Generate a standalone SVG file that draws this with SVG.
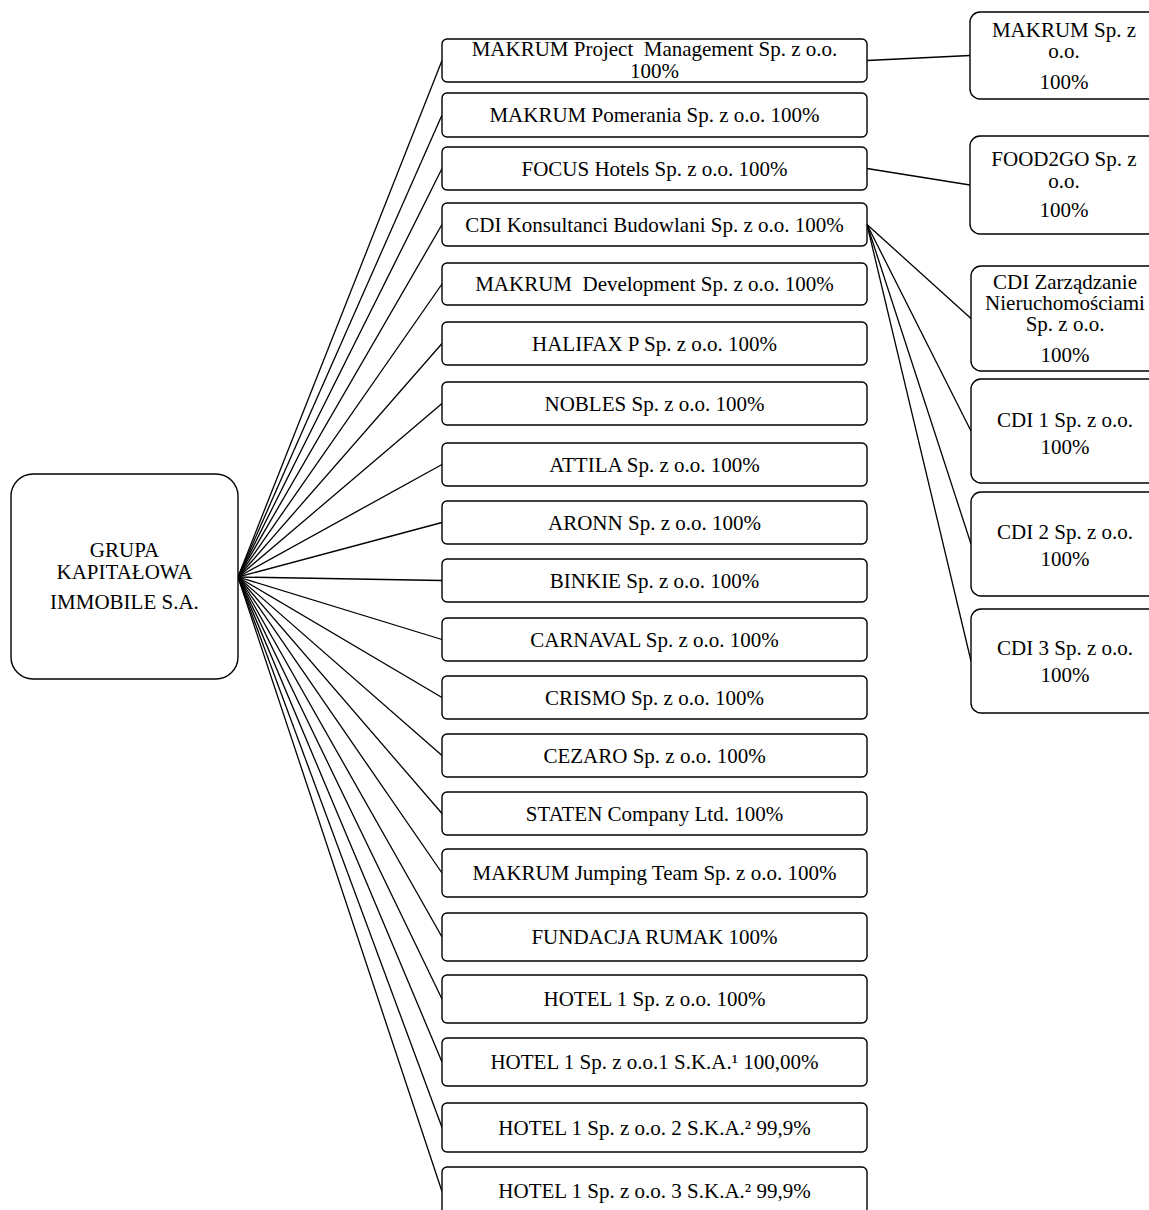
<svg xmlns="http://www.w3.org/2000/svg" width="1149" height="1210" viewBox="0 0 1149 1210">
<style>
  .box { fill: #ffffff; stroke: #000000; stroke-width: 1.4; }
  .t { font-family: "Liberation Serif", "Times New Roman", serif; font-size: 21px; fill: #000000; text-anchor: middle; white-space: pre; }
  .c line { stroke: #000000; stroke-width: 1.3; }
</style>
<rect x="0" y="0" width="1149" height="1210" fill="#ffffff"/>
<g class="c" id="connectors">
  <line x1="238" y1="577" x2="442" y2="60.5"/>
  <line x1="238" y1="577" x2="442" y2="115"/>
  <line x1="238" y1="577" x2="442" y2="168.5"/>
  <line x1="238" y1="577" x2="442" y2="224.5"/>
  <line x1="238" y1="577" x2="442" y2="284"/>
  <line x1="238" y1="577" x2="442" y2="343.5"/>
  <line x1="238" y1="577" x2="442" y2="403.5"/>
  <line x1="238" y1="577" x2="442" y2="464.5"/>
  <line x1="238" y1="577" x2="442" y2="522.5"/>
  <line x1="238" y1="577" x2="442" y2="580.5"/>
  <line x1="238" y1="577" x2="442" y2="639.5"/>
  <line x1="238" y1="577" x2="442" y2="697.5"/>
  <line x1="238" y1="577" x2="442" y2="755.5"/>
  <line x1="238" y1="577" x2="442" y2="813.5"/>
  <line x1="238" y1="577" x2="442" y2="873"/>
  <line x1="238" y1="577" x2="442" y2="937"/>
  <line x1="238" y1="577" x2="442" y2="999"/>
  <line x1="238" y1="577" x2="442" y2="1062"/>
  <line x1="238" y1="577" x2="442" y2="1127.5"/>
  <line x1="238" y1="577" x2="442" y2="1191.5"/>
  <line x1="867" y1="60.5" x2="970" y2="55.5"/>
  <line x1="867" y1="168.5" x2="970" y2="185"/>
  <line x1="867" y1="224.5" x2="971" y2="318.5"/>
  <line x1="867" y1="224.5" x2="971" y2="431"/>
  <line x1="867" y1="224.5" x2="971" y2="544"/>
  <line x1="867" y1="224.5" x2="971" y2="661"/>
</g>
<g id="root">
  <rect class="box" x="11" y="474" width="227" height="205" rx="22"/>
  <text class="t" x="124.5" y="557">GRUPA</text>
  <text class="t" x="124.5" y="579">KAPITAŁOWA</text>
  <text class="t" x="124.5" y="609">IMMOBILE S.A.</text>
</g>
<g id="n1"><rect class="box" x="442" y="39" width="425" height="43" rx="5"/>
  <text class="t" x="654.5" y="56">MAKRUM Project  Management Sp. z o.o.</text>
  <text class="t" x="654.5" y="77.5">100%</text></g>
<g id="n2"><rect class="box" x="442" y="93" width="425" height="44" rx="5"/><text class="t" x="654.5" y="122">MAKRUM Pomerania Sp. z o.o. 100%</text></g>
<g id="n3"><rect class="box" x="442" y="147" width="425" height="43" rx="5"/><text class="t" x="654.5" y="175.5">FOCUS Hotels Sp. z o.o. 100%</text></g>
<g id="n4"><rect class="box" x="442" y="203" width="425" height="43" rx="5"/><text class="t" x="654.5" y="231.5">CDI Konsultanci Budowlani Sp. z o.o. 100%</text></g>
<g id="n5"><rect class="box" x="442" y="263" width="425" height="42" rx="5"/><text class="t" x="654.5" y="291">MAKRUM  Development Sp. z o.o. 100%</text></g>
<g id="n6"><rect class="box" x="442" y="322" width="425" height="43" rx="5"/><text class="t" x="654.5" y="350.5">HALIFAX P Sp. z o.o. 100%</text></g>
<g id="n7"><rect class="box" x="442" y="382" width="425" height="43" rx="5"/><text class="t" x="654.5" y="410.5">NOBLES Sp. z o.o. 100%</text></g>
<g id="n8"><rect class="box" x="442" y="443" width="425" height="43" rx="5"/><text class="t" x="654.5" y="471.5">ATTILA Sp. z o.o. 100%</text></g>
<g id="n9"><rect class="box" x="442" y="501" width="425" height="43" rx="5"/><text class="t" x="654.5" y="529.5">ARONN Sp. z o.o. 100%</text></g>
<g id="n10"><rect class="box" x="442" y="559" width="425" height="43" rx="5"/><text class="t" x="654.5" y="587.5">BINKIE Sp. z o.o. 100%</text></g>
<g id="n11"><rect class="box" x="442" y="618" width="425" height="43" rx="5"/><text class="t" x="654.5" y="646.5">CARNAVAL Sp. z o.o. 100%</text></g>
<g id="n12"><rect class="box" x="442" y="676" width="425" height="43" rx="5"/><text class="t" x="654.5" y="704.5">CRISMO Sp. z o.o. 100%</text></g>
<g id="n13"><rect class="box" x="442" y="734" width="425" height="43" rx="5"/><text class="t" x="654.5" y="762.5">CEZARO Sp. z o.o. 100%</text></g>
<g id="n14"><rect class="box" x="442" y="792" width="425" height="43" rx="5"/><text class="t" x="654.5" y="820.5">STATEN Company Ltd. 100%</text></g>
<g id="n15"><rect class="box" x="442" y="849" width="425" height="48" rx="5"/><text class="t" x="654.5" y="879.5">MAKRUM Jumping Team Sp. z o.o. 100%</text></g>
<g id="n16"><rect class="box" x="442" y="913" width="425" height="48" rx="5"/><text class="t" x="654.5" y="943.5">FUNDACJA RUMAK 100%</text></g>
<g id="n17"><rect class="box" x="442" y="975" width="425" height="48" rx="5"/><text class="t" x="654.5" y="1005.5">HOTEL 1 Sp. z o.o. 100%</text></g>
<g id="n18"><rect class="box" x="442" y="1038" width="425" height="48" rx="5"/><text class="t" x="654.5" y="1068.5">HOTEL 1 Sp. z o.o.1 S.K.A.¹ 100,00%</text></g>
<g id="n19"><rect class="box" x="442" y="1103" width="425" height="49" rx="5"/><text class="t" x="654.5" y="1134.5">HOTEL 1 Sp. z o.o. 2 S.K.A.² 99,9%</text></g>
<g id="n20"><rect class="box" x="442" y="1167" width="425" height="49" rx="5"/><text class="t" x="654.5" y="1198">HOTEL 1 Sp. z o.o. 3 S.K.A.² 99,9%</text></g>
<g id="r1"><rect class="box" x="970" y="12" width="190" height="87" rx="10"/>
  <text class="t" x="1064" y="36.5">MAKRUM Sp. z</text>
  <text class="t" x="1064" y="58">o.o.</text>
  <text class="t" x="1064" y="88.5">100%</text></g>
<g id="r2"><rect class="box" x="970" y="136" width="190" height="98" rx="10"/>
  <text class="t" x="1064" y="166">FOOD2GO Sp. z</text>
  <text class="t" x="1064" y="187.5">o.o.</text>
  <text class="t" x="1064" y="217">100%</text></g>
<g id="r3"><rect class="box" x="971" y="266" width="190" height="105" rx="10"/>
  <text class="t" x="1065" y="289">CDI Zarządzanie</text>
  <text class="t" x="1065" y="310">Nieruchomościami</text>
  <text class="t" x="1065" y="331">Sp. z o.o.</text>
  <text class="t" x="1065" y="362">100%</text></g>
<g id="r4"><rect class="box" x="971" y="379" width="190" height="104" rx="10"/>
  <text class="t" x="1065" y="427">CDI 1 Sp. z o.o.</text>
  <text class="t" x="1065" y="454">100%</text></g>
<g id="r5"><rect class="box" x="971" y="492" width="190" height="104" rx="10"/>
  <text class="t" x="1065" y="539">CDI 2 Sp. z o.o.</text>
  <text class="t" x="1065" y="566">100%</text></g>
<g id="r6"><rect class="box" x="971" y="609" width="190" height="104" rx="10"/>
  <text class="t" x="1065" y="655">CDI 3 Sp. z o.o.</text>
  <text class="t" x="1065" y="682">100%</text></g>
</svg>
